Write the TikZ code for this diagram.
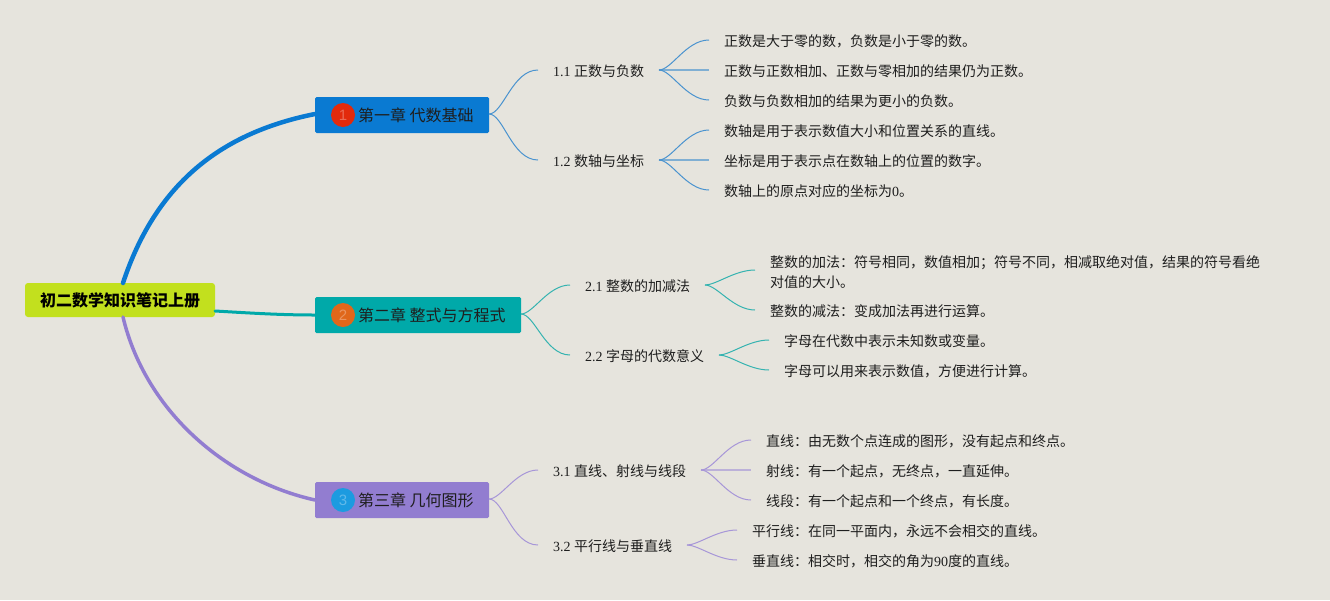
\documentclass[tikz,border=0pt]{standalone}
\usepackage{fontspec}
\setmainfont{Liberation Serif}
\newfontfamily\cjk{Noto Sans CJK SC}
\newfontfamily\badgefont{Liberation Sans}
\newcommand\zh[1]{{\cjk #1}}
\definecolor{bgc}{HTML}{E6E4DD}
\definecolor{inkc}{HTML}{1E1E1E}
\definecolor{rootc}{HTML}{C2E01E}
\definecolor{oneC}{HTML}{0A7AD2}
\definecolor{twoC}{HTML}{00A9A9}
\definecolor{threeC}{HTML}{927DD0}
\definecolor{oneL}{HTML}{4A93CF}
\definecolor{twoL}{HTML}{35B3B0}
\definecolor{threeL}{HTML}{A796D8}
\definecolor{badgeA}{HTML}{E22A0C}
\definecolor{badgeB}{HTML}{E0671A}
\definecolor{badgeC}{HTML}{1C9BE0}
\tikzset{
  x=1pt,y=-1pt,
  txt/.style={anchor=west,inner xsep=15pt,inner ysep=0pt,outer sep=0pt,text=inkc,
    font=\fontsize{14}{20}\selectfont,text height=14pt,text depth=1pt},
  wrapped/.style={txt,align=left,text height=34pt,text depth=0pt},
  chapter/.style={anchor=west,inner sep=0pt,outer sep=0pt,rounded corners=1.5pt,minimum height=36pt,
    text=inkc,font=\fontsize{16}{20}\selectfont,align=left,text height=15pt,text depth=2pt},
  badge/.style={circle,minimum size=24pt,inner sep=0pt,outer sep=0pt,text=white,text opacity=0.3,
    font=\badgefont\fontsize{15}{15}\selectfont},
  rootbox/.style={fill=rootc,rounded corners=3pt,minimum width=190pt,minimum height=34pt,inner sep=0pt,outer sep=0pt,
    text=black,font=\fontsize{16}{20}\selectfont\bfseries},
  main/.style={line width=#1,line cap=round},
  twig/.style={line width=1pt,out=0,in=180,out looseness=0.55,in looseness=1.0},
  straight/.style={line width=1.5pt,opacity=0.65},
}
\begin{document}
\begin{tikzpicture}
\fill[bgc] (0,0) rectangle (1330,600);
\useasboundingbox (0,0) rectangle (1330,600);

\node[rootbox] (root) at (120,300) {\zh{初二数学知识笔记上册}};
\node[chapter,fill=oneC,minimum width=174pt] (ch1) at (315,115) {};
\node[chapter,fill=twoC,minimum width=206pt] (ch2) at (315,315) {};
\node[chapter,fill=threeC,minimum width=174pt] (ch3) at (315,500) {};

\node[badge,fill=badgeA] (b1) at (343,115) {1};
\node[badge,fill=badgeB] (b2) at (343,315) {2};
\node[badge,fill=badgeC] (b3) at (343,500) {3};

\node[chapter,anchor=west,minimum height=0pt] (t1) at (358,115) {\zh{第一章 代数基础}};
\node[chapter,anchor=west,minimum height=0pt] (t2) at (358,315) {\zh{第二章 整式与方程式}};
\node[chapter,anchor=west,minimum height=0pt] (t3) at (358,500) {\zh{第三章 几何图形}};

\draw[main=4.5pt,oneC] ([xshift=3pt]root.north) .. controls (157,180) and (225,132) .. ([yshift=1pt]ch1.west);
\draw[main=3pt,twoC] (root.east) ++(0,11) .. controls (250,313) and (280,315) .. (ch2.west);
\draw[main=3.5pt,threeC] ([xshift=3pt]root.south) .. controls (145,410) and (225,480) .. (ch3.west);

\node[txt] (s11) at (538,70) {1.1 \zh{正数与负数}};
\node[txt] (s12) at (538,160) {1.2 \zh{数轴与坐标}};
\node[txt] (s21) at (570,285) {2.1 \zh{整数的加减法}};
\node[txt] (s22) at (570,355) {2.2 \zh{字母的代数意义}};
\node[txt] (s31) at (538,470) {3.1 \zh{直线、射线与线段}};
\node[txt] (s32) at (538,545) {3.2 \zh{平行线与垂直线}};

\node[txt] (l1) at (709,40) {\zh{正数是大于零的数，负数是小于零的数。}};
\node[txt] (l2) at (709,70) {\zh{正数与正数相加、正数与零相加的结果仍为正数。}};
\node[txt] (l3) at (709,100) {\zh{负数与负数相加的结果为更小的负数。}};
\node[txt] (l4) at (709,130) {\zh{数轴是用于表示数值大小和位置关系的直线。}};
\node[txt] (l5) at (709,160) {\zh{坐标是用于表示点在数轴上的位置的数字。}};
\node[txt] (l6) at (709,190) {\zh{数轴上的原点对应的坐标为}0\zh{。}};
\node[wrapped] (l7) at (755,270) {\zh{整数的加法：符号相同，数值相加；符号不同，相减取绝对值，结果的符号看绝}\\\zh{对值的大小。}};
\node[txt] (l8) at (755,310) {\zh{整数的减法：变成加法再进行运算。}};
\node[txt] (l9) at (769,340) {\zh{字母在代数中表示未知数或变量。}};
\node[txt] (l10) at (769,370) {\zh{字母可以用来表示数值，方便进行计算。}};
\node[txt] (l11) at (751,440) {\zh{直线：由无数个点连成的图形，没有起点和终点。}};
\node[txt] (l12) at (751,470) {\zh{射线：有一个起点，无终点，一直延伸。}};
\node[txt] (l13) at (751,500) {\zh{线段：有一个起点和一个终点，有长度。}};
\node[txt] (l14) at (737,530) {\zh{平行线：在同一平面内，永远不会相交的直线。}};
\node[txt] (l15) at (737,560) {\zh{垂直线：相交时，相交的角为}90\zh{度的直线。}};

\draw[oneL,twig] ([yshift=1pt]ch1.east) to (s11.west);
\draw[oneL,twig] ([yshift=1pt]ch1.east) to (s12.west);
\draw[oneL,twig] (s11.east) to (l1.west);
\draw[oneL,straight] (s11.east) -- (l2.west);
\draw[oneL,twig] (s11.east) to (l3.west);
\draw[oneL,twig] (s12.east) to (l4.west);
\draw[oneL,straight] (s12.east) -- (l5.west);
\draw[oneL,twig] (s12.east) to (l6.west);

\draw[twoL,twig] ([yshift=1pt]ch2.east) to (s21.west);
\draw[twoL,twig] ([yshift=1pt]ch2.east) to (s22.west);
\draw[twoL,twig] (s21.east) to (l7.west);
\draw[twoL,twig] (s21.east) to (l8.west);
\draw[twoL,twig] (s22.east) to (l9.west);
\draw[twoL,twig] (s22.east) to (l10.west);

\draw[threeL,twig] ([yshift=1pt]ch3.east) to (s31.west);
\draw[threeL,twig] ([yshift=1pt]ch3.east) to (s32.west);
\draw[threeL,twig] (s31.east) to (l11.west);
\draw[threeL,straight] (s31.east) -- (l12.west);
\draw[threeL,twig] (s31.east) to (l13.west);
\draw[threeL,twig] (s32.east) to (l14.west);
\draw[threeL,twig] (s32.east) to (l15.west);
\end{tikzpicture}
\end{document}
